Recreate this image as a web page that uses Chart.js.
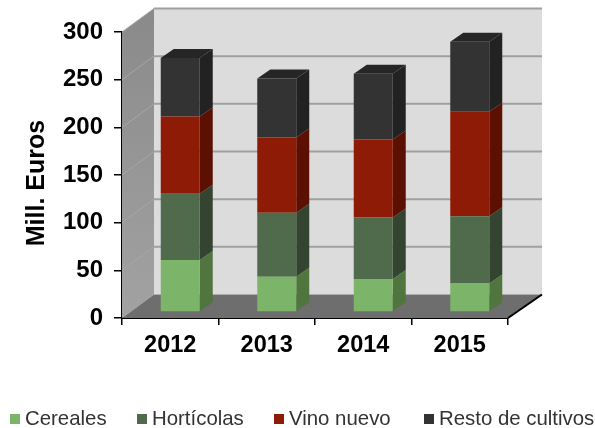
<!DOCTYPE html>
<html lang="en">
<head>
  <meta charset="UTF-8">
  <title>Mill. Euros</title>
  <style>
    body { margin: 0; background: #fff; }
    .chart-box { width: 595px; height: 428px; }
    canvas { filter: blur(0.4px); }
  </style>
</head>
<body>
  <div class="chart-box"><canvas id="chart" width="595" height="428"></canvas></div>

  <script src="https://cdn.jsdelivr.net/npm/chart.js@4"></script>
  <script>
    const categories = ['2012', '2013', '2014', '2015'];
    const cereales = [54.5, 37, 34.5, 30];
    const horticolas = [69.5, 67, 64.5, 70.5];
    const vinoNuevo = [81, 79, 82, 109.5];
    const restoCultivos = [61.5, 62, 69, 73.5];
    const yTicks = [0, 50, 100, 150, 200, 250, 300];

    // front, side
    const colors = [
      ['#7cb46a', '#50753f'],
      ['#4f6b4c', '#344430'],
      ['#8e1b05', '#5b1002'],
      ['#333333', '#222222']
    ];

    // fake 3d box: how far back the walls go and where the bars sit in it
    const wall = { dx: 32, dxRight: 34, dy: -23.5 };
    const barShift = { dx: 10, dy: -6 };
    const barDepth = { dx: 13, dy: -9 };

    function poly(ctx, pts, fill) {
      ctx.beginPath();
      pts.forEach((p, i) => i ? ctx.lineTo(p[0], p[1]) : ctx.moveTo(p[0], p[1]));
      ctx.closePath();
      ctx.fillStyle = fill;
      ctx.fill();
    }

    const box3d = {
      id: 'box3d',
      beforeDatasetsDraw(chart) {
        const { ctx, chartArea: a, scales: { y } } = chart;
        const bx = a.left + wall.dx, br = a.right + wall.dxRight, by = wall.dy;

        ctx.save();
        // back wall
        poly(ctx, [[bx, a.top + by], [br, a.top + by], [br, a.bottom + by], [bx, a.bottom + by]], '#dcdcdc');
        // left wall
        const grad = ctx.createLinearGradient(0, a.top + by, 0, a.bottom);
        grad.addColorStop(0, '#8a8a8a');
        grad.addColorStop(1, '#a2a2a2');
        poly(ctx, [[a.left, a.top], [bx, a.top + by], [bx, a.bottom + by], [a.left, a.bottom]], grad);
        // floor
        poly(ctx, [[a.left, a.bottom], [bx, a.bottom + by], [br, a.bottom + by], [a.right, a.bottom]], '#6e6e6e');

        // grid lines run across both walls
        yTicks.slice(1).forEach(v => {
          const py = y.getPixelForValue(v);
          ctx.lineWidth = 1;
          ctx.strokeStyle = '#a6a6a6';
          ctx.beginPath();
          ctx.moveTo(a.left, py);
          ctx.lineTo(bx, py + by);
          ctx.stroke();
          ctx.lineWidth = 2;
          ctx.strokeStyle = '#a0a0a0';
          ctx.beginPath();
          ctx.moveTo(bx, py + by);
          ctx.lineTo(br, py + by);
          ctx.stroke();
        });

        // floor right edge
        ctx.lineWidth = 2;
        ctx.strokeStyle = '#000';
        ctx.beginPath();
        ctx.moveTo(a.right, a.bottom);
        ctx.lineTo(br, a.bottom + by);
        ctx.stroke();

        // side and top faces of the bars
        ctx.translate(barShift.dx, barShift.dy);
        chart.data.datasets.forEach((ds, i) => {
          chart.getDatasetMeta(i).data.forEach(bar => {
            const r = bar.x + bar.width / 2;
            const l = bar.x - bar.width / 2;
            poly(ctx, [[r, bar.y], [r + barDepth.dx, bar.y + barDepth.dy], [r + barDepth.dx, bar.base + barDepth.dy], [r, bar.base]], colors[i][1]);
            if (i === chart.data.datasets.length - 1) {
              poly(ctx, [[l, bar.y], [l + barDepth.dx, bar.y + barDepth.dy], [r + barDepth.dx, bar.y + barDepth.dy], [r, bar.y]], '#262626');
            }
          });
        });
        ctx.restore();

        // front faces are drawn by chart.js, moved into the box
        ctx.save();
        ctx.translate(barShift.dx, barShift.dy);
      },
      afterDatasetsDraw(chart) {
        chart.ctx.restore();
      },
      afterDraw(chart) {
        const { ctx } = chart;
        ctx.save();

        // y title, sits lower than the axis centre
        ctx.translate(37, 183);
        ctx.rotate(-Math.PI / 2);
        ctx.font = 'bold 25px "Liberation Sans"';
        ctx.fillStyle = '#000';
        ctx.textAlign = 'center';
        ctx.textBaseline = 'middle';
        ctx.fillText('Mill. Euros', 0, 0);
        ctx.setTransform(1, 0, 0, 1, 0, 0);

        // legend, chart.js would wrap this row
        const boxX = [10, 137, 274, 424];
        ctx.font = '20.4px "Liberation Sans"';
        ctx.textAlign = 'left';
        chart.data.datasets.forEach((ds, i) => {
          ctx.fillStyle = colors[i][0];
          ctx.fillRect(boxX[i], 414, 10, 10);
          ctx.fillStyle = '#333';
          ctx.fillText(ds.label, boxX[i] + 15, 419);
        });
        ctx.restore();
      }
    };

    new Chart(document.getElementById('chart'), {
      type: 'bar',
      data: {
        labels: categories,
        datasets: [
          { label: 'Cereales', data: cereales, backgroundColor: colors[0][0] },
          { label: 'Hortícolas', data: horticolas, backgroundColor: colors[1][0] },
          { label: 'Vino nuevo', data: vinoNuevo, backgroundColor: colors[2][0] },
          { label: 'Resto de cultivos', data: restoCultivos, backgroundColor: colors[3][0] }
        ]
      },
      options: {
        responsive: false,
        animation: false,
        layout: { padding: { left: 0, right: 87, top: 32, bottom: 0 } },
        datasets: { bar: { categoryPercentage: 0.404, barPercentage: 1, clip: false } },
        plugins: { legend: { display: false }, tooltip: { enabled: false } },
        scales: {
          x: {
            stacked: true,
            afterFit(scale) { scale.height = 110; },
            border: { color: '#000', width: 2 },
            grid: { drawOnChartArea: false, color: '#000', tickColor: '#000', tickLength: 7, lineWidth: 1.5 },
            ticks: { color: '#000', padding: 6, font: { family: '"Liberation Sans"', size: 23.5, weight: 'bold' } }
          },
          y: {
            stacked: true,
            min: 0,
            max: 300,
            afterFit(scale) { scale.width = 122; },
            afterBuildTicks(scale) { scale.ticks = yTicks.map(v => ({ value: v })); },
            border: { color: '#000', width: 2 },
            grid: { drawOnChartArea: false, color: '#000', tickColor: '#000', tickLength: 8, lineWidth: 1.5 },
            ticks: { color: '#000', padding: 11, font: { family: '"Liberation Sans"', size: 24, weight: 'bold' } }
          }
        }
      },
      plugins: [box3d]
    });
  </script>
</body>
</html>
